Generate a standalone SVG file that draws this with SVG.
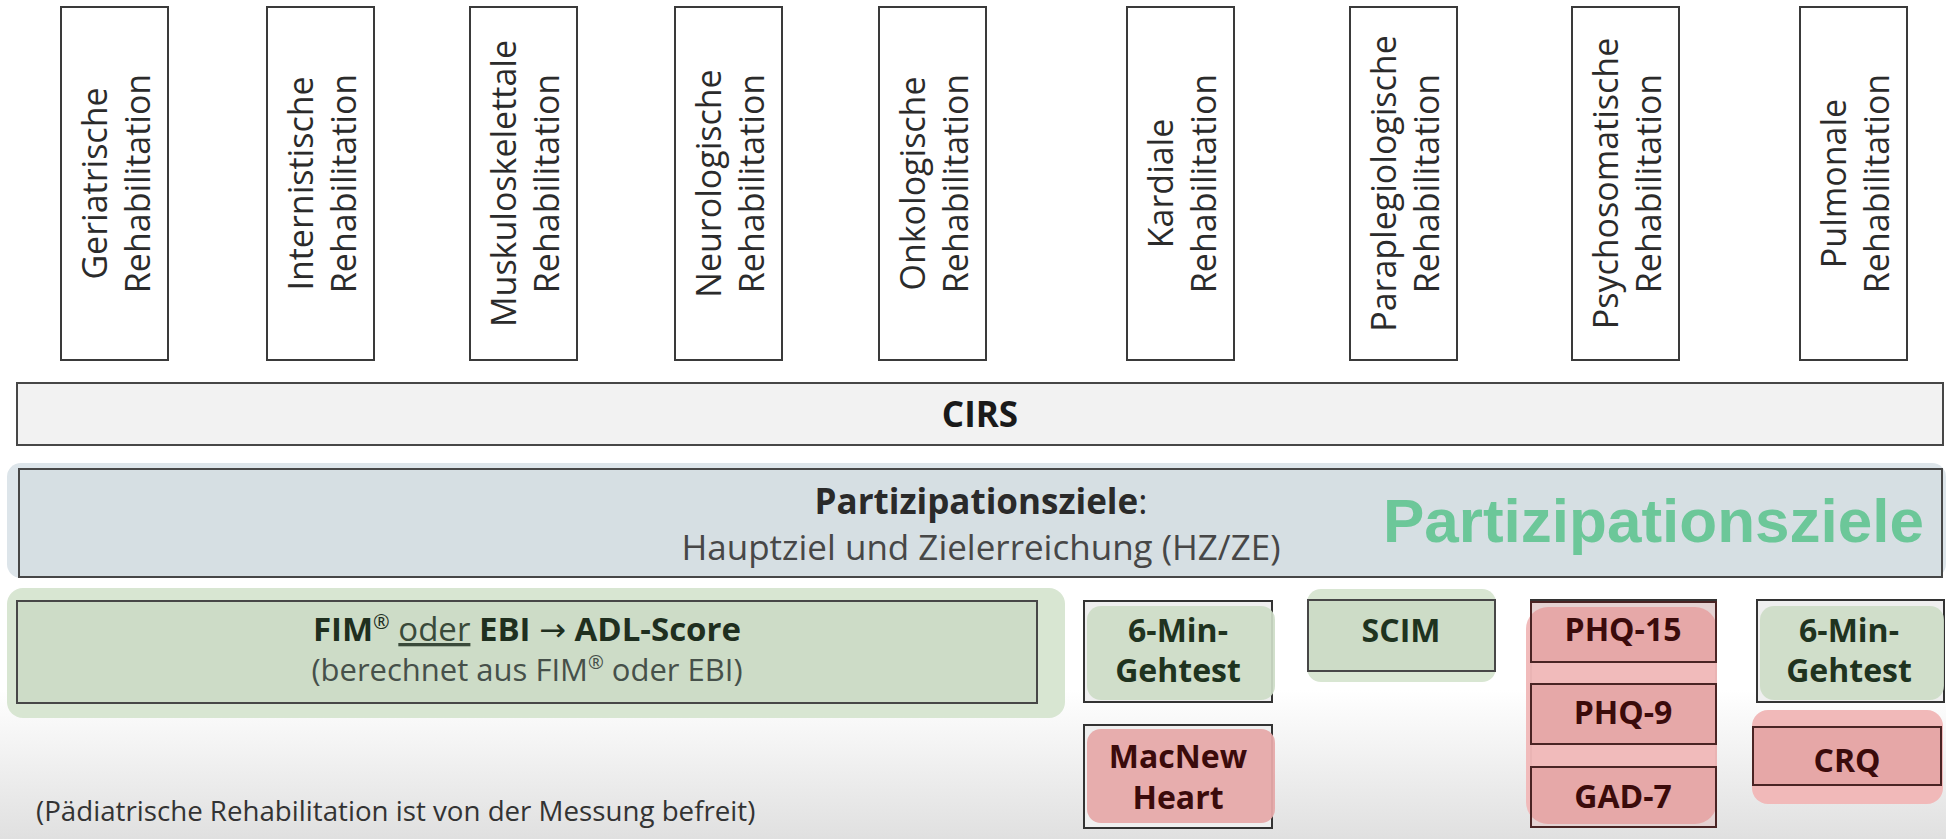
<svg xmlns="http://www.w3.org/2000/svg" width="1946" height="839" viewBox="0 0 1946 839">
<defs>
<linearGradient id="bgfade" x1="0" y1="0" x2="0" y2="1">
<stop offset="0" stop-color="#ffffff"/>
<stop offset="1" stop-color="#e0e0e0"/>
</linearGradient>
</defs>
<style>
.top rect{fill:#ffffff;stroke:#3a3a3a;stroke-width:2}
.top text{font-family:"Open Sans","Noto Sans",sans-serif;font-size:34px;fill:#2b2b2b;text-anchor:middle}
.t{font-family:"Open Sans","Noto Sans",sans-serif}
.b{font-weight:700}
.box{stroke:#474747;stroke-width:2}
.gglow{fill:#d8e6d2}
.gfill{fill:#cddcc7}
.rglow{fill:#f1b9b9}
.rfill{fill:#c06060;fill-opacity:0.2;stroke:#4a2424;stroke-width:2}
.grey{fill:#efefef;stroke:#333333;stroke-width:2}
.gt{font-family:"Open Sans","Noto Sans",sans-serif;font-weight:700;font-size:32px;fill:#1f331f;text-anchor:middle}
.rt{font-family:"Open Sans","Noto Sans",sans-serif;font-weight:700;font-size:32px;fill:#3b0b0b;text-anchor:middle}
</style>
<rect x="0" y="0" width="1946" height="839" fill="#ffffff"/>
<rect x="0" y="690" width="1946" height="149" fill="url(#bgfade)"/>

<g id="geriatrische" class="top"><rect x="61" y="7" width="107" height="353"/><g transform="translate(114.5,183.5) rotate(-90)"><text x="0" y="-8">Geriatrische</text><text x="0" y="35">Rehabilitation</text></g></g>
<g id="internistische" class="top"><rect x="267" y="7" width="107" height="353"/><g transform="translate(320.5,183.5) rotate(-90)"><text x="0" y="-8">Internistische</text><text x="0" y="35">Rehabilitation</text></g></g>
<g id="muskuloskelettale" class="top"><rect x="470" y="7" width="107" height="353"/><g transform="translate(523.5,183.5) rotate(-90)"><text x="0" y="-8">Muskuloskelettale</text><text x="0" y="35">Rehabilitation</text></g></g>
<g id="neurologische" class="top"><rect x="675" y="7" width="107" height="353"/><g transform="translate(728.5,183.5) rotate(-90)"><text x="0" y="-8">Neurologische</text><text x="0" y="35">Rehabilitation</text></g></g>
<g id="onkologische" class="top"><rect x="879" y="7" width="107" height="353"/><g transform="translate(932.5,183.5) rotate(-90)"><text x="0" y="-8">Onkologische</text><text x="0" y="35">Rehabilitation</text></g></g>
<g id="kardiale" class="top"><rect x="1127" y="7" width="107" height="353"/><g transform="translate(1180.5,183.5) rotate(-90)"><text x="0" y="-8">Kardiale</text><text x="0" y="35">Rehabilitation</text></g></g>
<g id="paraplegiologische" class="top"><rect x="1350" y="7" width="107" height="353"/><g transform="translate(1403.5,183.5) rotate(-90)"><text x="0" y="-8">Paraplegiologische</text><text x="0" y="35">Rehabilitation</text></g></g>
<g id="psychosomatische" class="top"><rect x="1572" y="7" width="107" height="353"/><g transform="translate(1625.5,183.5) rotate(-90)"><text x="0" y="-8">Psychosomatische</text><text x="0" y="35">Rehabilitation</text></g></g>
<g id="pulmonale" class="top"><rect x="1800" y="7" width="107" height="353"/><g transform="translate(1853.5,183.5) rotate(-90)"><text x="0" y="-8">Pulmonale</text><text x="0" y="35">Rehabilitation</text></g></g>

<g id="cirs">
<rect class="box" x="17" y="383" width="1926" height="62" fill="#f2f2f2"/>
<text class="t b" x="980" y="427" font-size="35" fill="#1a1a1a" text-anchor="middle">CIRS</text>
</g>

<g id="partizipationsziele">
<rect x="7" y="463" width="1939" height="115" rx="14" fill="#dde5ea"/>
<rect class="box" x="19" y="469" width="1923" height="108" fill="#d6dfe3"/>
<text class="t" x="981" y="514" font-size="35" fill="#2a2a2a" text-anchor="middle"><tspan font-weight="700">Partizipationsziele</tspan>:</text>
<text class="t" x="981" y="560" font-size="35" fill="#474747" text-anchor="middle">Hauptziel und Zielerreichung (HZ/ZE)</text>
<text x="1383" y="542" font-family="'Liberation Sans',Arial,sans-serif" font-weight="700" font-size="62" fill="#6cc799">Partizipationsziele</text>
</g>

<g id="fim-ebi">
<rect class="gglow" x="7" y="588" width="1058" height="130" rx="16"/>
<rect class="gfill box" x="17" y="601" width="1020" height="102" stroke="#3e4a3e"/>
<text class="t" x="527" y="641" font-size="33" fill="#1f2f1f" text-anchor="middle"><tspan font-weight="700">FIM</tspan><tspan font-size="20" dy="-12">®</tspan><tspan dy="12"> </tspan><tspan text-decoration="underline" fill="#3a4a3a">oder</tspan><tspan font-weight="700"> EBI </tspan><tspan font-family="'DejaVu Sans',sans-serif" font-size="32">→</tspan><tspan font-weight="700"> ADL-Score</tspan></text>
<text class="t" x="527" y="681" font-size="31" fill="#46504a" text-anchor="middle">(berechnet aus FIM<tspan font-size="19" dy="-12">®</tspan><tspan dy="12"> oder EBI)</tspan></text>
</g>

<g id="kardial-6min">
<rect class="grey" x="1084" y="601" width="188" height="101"/>
<rect class="gfill" x="1087" y="606" width="188" height="94" rx="14" fill-opacity="0.92"/>
<text class="gt" x="1178" y="642">6-Min-</text>
<text class="gt" x="1178" y="682">Gehtest</text>
</g>

<g id="macnew">
<rect class="grey" x="1084" y="725" width="188" height="103"/>
<rect x="1087" y="729" width="188" height="94" rx="14" fill="#e6a9a9" fill-opacity="0.95"/>
<text class="rt" x="1178" y="768">MacNew</text>
<text class="rt" x="1178" y="809">Heart</text>
</g>

<g id="scim">
<rect class="gglow" x="1307" y="589" width="189" height="93" rx="14"/>
<rect class="gfill box" x="1308" y="600" width="187" height="71" stroke="#3e4a3e"/>
<text class="gt" x="1401" y="642">SCIM</text>
</g>

<g id="psych-group">
<rect class="grey" x="1531" y="600" width="185" height="227"/>
<rect class="rglow" x="1526" y="607" width="191" height="217" rx="22" fill-opacity="0.97"/>
</g>
<g id="phq15">
<rect class="rfill" x="1531" y="602" width="185" height="60"/>
<text class="rt" x="1623" y="641">PHQ-15</text>
</g>
<g id="phq9">
<rect class="rfill" x="1531" y="684" width="185" height="60"/>
<text class="rt" x="1623" y="724">PHQ-9</text>
</g>
<g id="gad7">
<rect class="rfill" x="1531" y="767" width="185" height="60"/>
<text class="rt" x="1623" y="808">GAD-7</text>
</g>

<g id="pulmonal-6min">
<rect class="grey" x="1757" y="600" width="187" height="102"/>
<rect class="gfill" x="1760" y="606" width="184" height="94" rx="14" fill-opacity="0.92"/>
<text class="gt" x="1849" y="642">6-Min-</text>
<text class="gt" x="1849" y="682">Gehtest</text>
</g>

<g id="crq">
<rect class="rglow" x="1752" y="710" width="191" height="94" rx="16"/>
<rect class="rfill" x="1753" y="727" width="188" height="58"/>
<text class="rt" x="1847" y="772">CRQ</text>
</g>

<g id="connectors"/>

<text class="t" x="36" y="821" font-size="27.7" fill="#333333">(Pädiatrische Rehabilitation ist von der Messung befreit)</text>
</svg>
